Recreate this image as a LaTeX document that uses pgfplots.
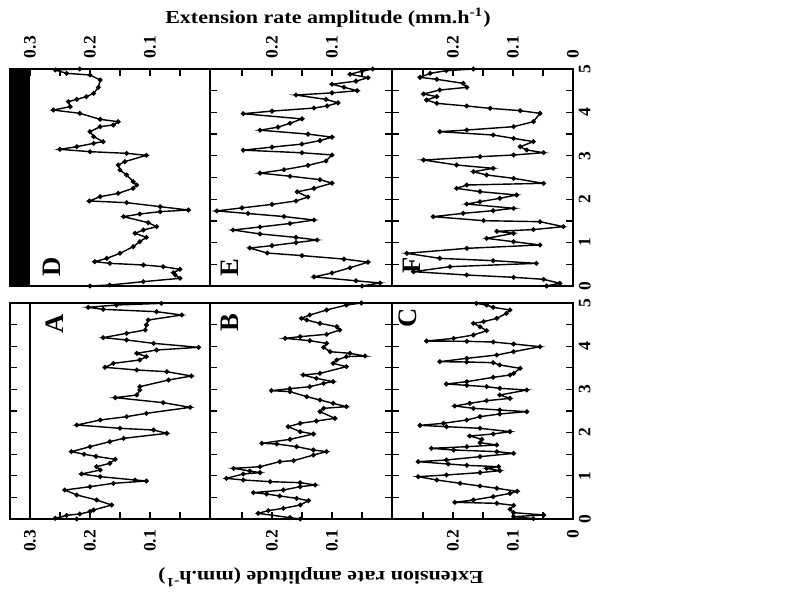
\documentclass[border=0pt]{standalone}
\usepackage{pgfplots}
\pgfplotsset{compat=1.18}
\usepackage{fontspec}
\setmainfont{Liberation Serif}
\tikzset{letter/.style={rotate=90, font=\fontsize{16}{16}\selectfont\bfseries}}
\pgfplotsset{
  ser/.style={black, line width=0.85pt, mark=*, mark size=1.0pt, mark options={fill=black, solid}},
  panel/.style={
    scale only axis, ymin=0, ymax=5, xmin=0, x dir=reverse,
    axis line style={line width=0.9pt},
    every tick/.style={black, line width=0.8pt},
    major tick length=4.2pt, minor tick length=4.2pt, tick align=inside,
    ytick={0,0.5,...,5}, yticklabels={},
    xtick={0,0.1,0.2,0.3}, minor xtick={0.05,0.15,0.25},
    /pgf/number format/assume math mode=true,
    tick label style={font=\fontsize{10.5}{11}\selectfont\bfseries},
    xticklabel={\pgfmathprintnumber[fixed,precision=1]{\tick}},
    clip=false,
  },
  toprow/.style={height=130.2pt, xtick pos=right, xticklabel pos=right,
    x tick label style={rotate=90, anchor=west}, xticklabel shift=3pt},
  botrow/.style={height=129.6pt, xtick pos=left, xticklabel pos=left,
    x tick label style={rotate=90, anchor=east}, xticklabel shift=3pt},
  timelabels/.style={ytick={0,1,...,5}, minor ytick={0.5,1.5,...,4.5}, yticklabels={0,1,2,3,4,5},
    yticklabel pos=right, y tick label style={rotate=90, anchor=north}},
}
\begin{document}
\begin{tikzpicture}
\useasboundingbox (0,0) rectangle (484.8pt,-356.4pt);
% ---------------- D ----------------
\begin{axis}[panel, toprow, at={(6pt,-41.4pt)}, anchor=north west, width=120pt, xmax=0.33333,
  xtick={0.1,0.2,0.3}, minor xtick={0.05,0.15,0.25}, ytick pos=left]
\fill[black] (axis cs:0.3,0) rectangle (axis cs:0.33333,5);
\addplot[ser] coordinates {(0.200,0) (0.167,0.023) (0.111,0.100) (0.050,0.177) (0.058,0.253) (0.061,0.307) (0.050,0.384) (0.078,0.445) (0.111,0.484) (0.167,0.522) (0.192,0.561) (0.172,0.637) (0.150,0.753) (0.128,0.906) (0.117,1.022) (0.106,1.121) (0.125,1.214) (0.111,1.290) (0.089,1.367) (0.103,1.459) (0.144,1.598) (0.117,1.659) (0.083,1.713) (0.036,1.751) (0.083,1.828) (0.139,1.920) (0.201,1.959) (0.183,2.058) (0.153,2.135) (0.128,2.250) (0.122,2.327) (0.128,2.404) (0.139,2.558) (0.150,2.673) (0.153,2.788) (0.142,2.865) (0.106,3.011) (0.139,3.057) (0.200,3.095) (0.250,3.149) (0.222,3.210) (0.194,3.287) (0.178,3.326) (0.194,3.441) (0.200,3.556) (0.183,3.671) (0.161,3.710) (0.153,3.786) (0.183,3.840) (0.217,3.978) (0.261,4.055) (0.233,4.132) (0.236,4.247) (0.222,4.301) (0.206,4.363) (0.194,4.439) (0.186,4.578) (0.183,4.747) (0.200,4.862) (0.239,4.900) (0.258,4.977) (0.217,5.0)};
\node[letter] at (rel axis cs:0.21,0.088) {D};
\end{axis}
% ---------------- E ----------------
\begin{axis}[panel, toprow, at={(126pt,-41.4pt)}, anchor=north west, width=109.2pt, xmax=0.30333,
  xtick={0.1,0.2}, minor xtick={0.05,0.15,0.25}]
\addplot[ser] coordinates {(0.050,0) (0.020,0.07) (0.060,0.12) (0.130,0.21) (0.100,0.30) (0.070,0.42) (0.040,0.55) (0.080,0.62) (0.150,0.70) (0.208,0.76) (0.237,0.875) (0.200,0.93) (0.160,1.00) (0.125,1.06) (0.160,1.12) (0.220,1.20) (0.265,1.29) (0.220,1.36) (0.170,1.44) (0.130,1.52) (0.180,1.60) (0.240,1.67) (0.292,1.73) (0.250,1.80) (0.200,1.88) (0.160,1.96) (0.140,2.05) (0.158,2.17) (0.130,2.25) (0.100,2.37) (0.120,2.45) (0.170,2.53) (0.220,2.60) (0.180,2.68) (0.140,2.78) (0.110,2.88) (0.100,3.02) (0.150,3.07) (0.248,3.13) (0.200,3.20) (0.150,3.27) (0.120,3.35) (0.100,3.43) (0.140,3.50) (0.220,3.59) (0.190,3.66) (0.170,3.75) (0.150,3.85) (0.248,3.97) (0.200,4.03) (0.130,4.10) (0.108,4.15) (0.090,4.22) (0.110,4.30) (0.160,4.40) (0.100,4.45) (0.058,4.50) (0.080,4.58) (0.100,4.65) (0.060,4.72) (0.040,4.80) (0.070,4.88) (0.050,4.95) (0.032,5.0)};
\node[letter] at (rel axis cs:0.11,0.083) {E};
\end{axis}
% ---------------- F ----------------
\begin{axis}[panel, toprow, timelabels, at={(235.2pt,-41.4pt)}, anchor=north west, width=108.6pt, xmax=0.30167,
  xtick={0,0.1,0.2}, minor xtick={0.05,0.15,0.25}]
\addplot[ser] coordinates {(0.044,0) (0.022,0.061) (0.049,0.154) (0.099,0.200) (0.177,0.253) (0.266,0.330) (0.205,0.445) (0.061,0.522) (0.133,0.584) (0.222,0.637) (0.277,0.753) (0.177,0.868) (0.055,0.945) (0.099,1.021) (0.144,1.098) (0.099,1.214) (0.127,1.260) (0.066,1.300) (0.016,1.367) (0.055,1.482) (0.149,1.505) (0.233,1.598) (0.183,1.674) (0.133,1.736) (0.099,1.790) (0.177,1.889) (0.155,1.943) (0.122,2.020) (0.094,2.097) (0.155,2.174) (0.194,2.250) (0.177,2.327) (0.049,2.366) (0.099,2.481) (0.144,2.558) (0.166,2.634) (0.133,2.711) (0.194,2.788) (0.249,2.903) (0.155,2.980) (0.099,3.018) (0.049,3.072) (0.077,3.134) (0.088,3.210) (0.066,3.326) (0.099,3.402) (0.133,3.479) (0.222,3.556) (0.177,3.594) (0.099,3.671) (0.066,3.786) (0.055,3.978) (0.088,4.040) (0.138,4.094) (0.177,4.147) (0.227,4.209) (0.244,4.286) (0.227,4.363) (0.249,4.424) (0.222,4.516) (0.177,4.578) (0.183,4.670) (0.227,4.762) (0.255,4.808) (0.238,4.900) (0.211,4.962) (0.166,5.0)};
\node[letter] at (rel axis cs:0.11,0.097) {F};
\end{axis}
% ---------------- A ----------------
\begin{axis}[panel, botrow, at={(6pt,-181.8pt)}, anchor=north west, width=120pt, xmax=0.33333,
  xtick={0.1,0.2,0.3}, minor xtick={0.05,0.15,0.25}, ytick pos=left]
\draw[line width=0.9pt] (axis cs:0.3,0) -- (axis cs:0.3,5);
\addplot[ser] coordinates {(0.222,0) (0.258,0.015) (0.239,0.085) (0.217,0.116) (0.200,0.170) (0.194,0.208) (0.164,0.324) (0.189,0.440) (0.222,0.556) (0.242,0.671) (0.200,0.748) (0.161,0.826) (0.106,0.880) (0.125,0.903) (0.183,0.980) (0.214,1.042) (0.183,1.134) (0.189,1.211) (0.167,1.289) (0.158,1.381) (0.190,1.450) (0.210,1.500) (0.231,1.559) (0.200,1.674) (0.167,1.790) (0.144,1.867) (0.072,1.983) (0.094,2.060) (0.150,2.099) (0.222,2.176) (0.183,2.292) (0.139,2.369) (0.106,2.446) (0.033,2.585) (0.078,2.693) (0.158,2.809) (0.122,2.870) (0.117,2.986) (0.117,3.063) (0.069,3.218) (0.031,3.310) (0.072,3.410) (0.122,3.449) (0.175,3.511) (0.161,3.603) (0.117,3.681) (0.106,3.758) (0.122,3.835) (0.089,3.912) (0.019,3.974) (0.094,4.066) (0.139,4.144) (0.178,4.198) (0.139,4.298) (0.108,4.375) (0.106,4.491) (0.103,4.606) (0.047,4.722) (0.089,4.799) (0.178,4.853) (0.203,4.900) (0.156,4.954) (0.081,4.992)};
\node[letter] at (rel axis cs:0.225,0.905) {A};
\end{axis}
% ---------------- B ----------------
\begin{axis}[panel, botrow, at={(126pt,-181.8pt)}, anchor=north west, width=109.2pt, xmax=0.30333,
  xtick={0.1,0.2}, minor xtick={0.05,0.15,0.25}]
\addplot[ser] coordinates {(0.153,0) (0.170,0.031) (0.223,0.131) (0.206,0.193) (0.181,0.247) (0.153,0.324) (0.139,0.424) (0.159,0.478) (0.187,0.532) (0.209,0.579) (0.231,0.610) (0.181,0.671) (0.153,0.748) (0.128,0.787) (0.153,0.841) (0.203,0.864) (0.248,0.903) (0.276,0.941) (0.248,1.042) (0.220,1.073) (0.237,1.111) (0.264,1.173) (0.220,1.211) (0.187,1.327) (0.164,1.350) (0.131,1.481) (0.109,1.559) (0.131,1.597) (0.159,1.674) (0.192,1.736) (0.217,1.752) (0.170,1.844) (0.131,1.968) (0.153,2.022) (0.173,2.137) (0.153,2.215) (0.126,2.269) (0.095,2.330) (0.120,2.485) (0.114,2.562) (0.076,2.600) (0.098,2.677) (0.120,2.755) (0.142,2.832) (0.170,2.948) (0.201,2.971) (0.170,3.017) (0.137,3.063) (0.114,3.140) (0.098,3.179) (0.126,3.256) (0.148,3.333) (0.120,3.372) (0.076,3.526) (0.098,3.603) (0.092,3.681) (0.076,3.758) (0.045,3.773) (0.070,3.835) (0.103,3.873) (0.114,3.974) (0.109,4.066) (0.137,4.128) (0.178,4.182) (0.153,4.221) (0.109,4.275) (0.087,4.375) (0.092,4.452) (0.120,4.529) (0.142,4.606) (0.151,4.645) (0.137,4.722) (0.109,4.838) (0.076,4.954) (0.051,5.0)};
\node[letter] at (rel axis cs:0.11,0.91) {B};
\end{axis}
% ---------------- C ----------------
\begin{axis}[panel, botrow, timelabels, at={(235.2pt,-181.8pt)}, anchor=north west, width=108.6pt, xmax=0.30167,
  xtick={0,0.1,0.2}, minor xtick={0.05,0.15,0.25}]
\addplot[ser] coordinates {(0.066,0.008) (0.099,0.054) (0.049,0.093) (0.099,0.147) (0.105,0.224) (0.099,0.316) (0.127,0.363) (0.197,0.386) (0.166,0.440) (0.133,0.517) (0.105,0.594) (0.093,0.640) (0.127,0.710) (0.155,0.764) (0.188,0.826) (0.227,0.903) (0.258,0.980) (0.211,1.019) (0.155,1.073) (0.122,1.119) (0.144,1.173) (0.124,1.211) (0.177,1.242) (0.208,1.273) (0.258,1.327) (0.211,1.366) (0.155,1.443) (0.099,1.520) (0.127,1.559) (0.199,1.597) (0.236,1.636) (0.177,1.674) (0.127,1.713) (0.155,1.767) (0.152,1.844) (0.172,1.921) (0.133,1.968) (0.105,2.022) (0.155,2.099) (0.211,2.137) (0.255,2.168) (0.216,2.215) (0.177,2.292) (0.155,2.369) (0.122,2.431) (0.077,2.485) (0.122,2.523) (0.166,2.562) (0.197,2.616) (0.172,2.677) (0.144,2.739) (0.105,2.793) (0.122,2.870) (0.077,2.986) (0.122,3.025) (0.144,3.063) (0.177,3.094) (0.211,3.125) (0.177,3.179) (0.133,3.279) (0.105,3.333) (0.099,3.372) (0.088,3.488) (0.122,3.565) (0.133,3.619) (0.177,3.634) (0.222,3.642) (0.177,3.719) (0.127,3.796) (0.099,3.873) (0.055,3.989) (0.099,4.051) (0.133,4.097) (0.177,4.113) (0.244,4.120) (0.199,4.182) (0.166,4.259) (0.144,4.360) (0.155,4.452) (0.166,4.529) (0.149,4.568) (0.127,4.645) (0.111,4.761) (0.105,4.838) (0.133,4.900) (0.144,4.954) (0.161,4.992)};
\node[letter] at (rel axis cs:0.09,0.93) {C};
\end{axis}
% ---------------- titles ----------------
\node[font=\fontsize{11}{12}\selectfont\bfseries] at (196.8pt,-10.8pt) {\scalebox{1.2}[1]{Extension rate amplitude (mm.h\textsuperscript{-1})}};
\node[rotate=180, font=\fontsize{11}{12}\selectfont\bfseries] at (192.6pt,-346.2pt) {\scalebox{1.2}[1]{Extension rate amplitude (mm.h\textsuperscript{-1})}};
\end{tikzpicture}
\end{document}
